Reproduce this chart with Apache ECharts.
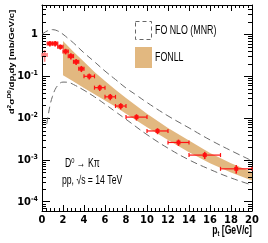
<!DOCTYPE html>
<html><head><meta charset="utf-8">
<script src="https://cdn.jsdelivr.net/npm/echarts@6/dist/echarts.min.js"></script>
<style>html,body{margin:0;padding:0;background:#fff}#c{width:268px;height:243px}</style>
</head><body><div id="c"></div>
<script>
// ---- data ----
const ptCenter = [0.25, 0.75, 1.25, 1.75, 2.25, 2.75, 3.25, 3.75, 4.5, 5.5, 6.5, 7.5, 9, 11, 13, 15.5, 18.5];
const ptLow    = [0, 0.5, 1, 1.5, 2, 2.5, 3, 3.5, 4, 5, 6, 7, 8, 10, 12, 14, 17];
const ptHigh   = [0.5, 1, 1.5, 2, 2.5, 3, 3.5, 4, 5, 6, 7, 8, 10, 12, 14, 17, 20];
const xsec     = [0.32, 0.60, 0.60, 0.50, 0.39, 0.30, 0.22, 0.15, 0.099, 0.053, 0.032, 0.0193, 0.0105, 0.0049, 0.0026, 0.0013, 0.00061];
const xsecErr  = [0.10, 0.09, 0.09, 0.07, 0.06, 0.05, 0.035, 0.025, 0.016, 0.009, 0.0055, 0.0033, 0.0018, 0.0008, 0.00045, 0.00025, 0.00014];

const fonllPt    = [2, 3, 4, 5, 6, 7, 8, 10, 12, 14, 16, 18, 20];
const fonllUpper = [0.69, 0.38, 0.22, 0.126, 0.076, 0.047, 0.030, 0.0126, 0.0058, 0.0029, 0.00145, 0.00083, 0.00051];
const fonllLower = [0.105, 0.074, 0.052, 0.037, 0.026, 0.0186, 0.0126, 0.0060, 0.0030, 0.00151, 0.00083, 0.00050, 0.00032];

const mnrUpperPt = [0, 0.5, 1, 1.5, 2, 2.5, 3, 4, 5, 6, 7, 8, 9, 10, 12, 14, 16, 18, 20];
const mnrUpper   = [1.0, 1.2, 1.29, 1.2, 1.0, 0.79, 0.62, 0.36, 0.22, 0.132, 0.083, 0.052, 0.035, 0.0234, 0.0112, 0.0058, 0.0030, 0.00166, 0.00095];
const mnrLowerPt = [0.45, 0.6, 0.8, 1.0, 1.25, 1.5, 1.75, 2, 2.5, 3, 4, 5, 6, 7, 8, 10, 12, 14, 16, 18, 20];
const mnrLower   = [0.0071, 0.012, 0.022, 0.033, 0.048, 0.060, 0.069, 0.072, 0.071, 0.063, 0.046, 0.032, 0.0214, 0.0141, 0.0093, 0.0040, 0.0019, 0.0010, 0.00059, 0.00037, 0.00025];

const minorMult = [2, 3, 4, 5, 6, 7, 8, 9];

// ---- style ----
const NARROW = '"Liberation Sans Narrow", "DejaVu Sans Condensed", "Liberation Sans", Arial, sans-serif';
const SANS = '"Liberation Sans", Arial, sans-serif';
const X_MIN = 0, X_MAX = 20, Y_MIN = 6e-5, Y_MAX = 5;

const chart = echarts.init(document.getElementById('c'), null, {renderer: 'canvas'});

function supLabel(v) {
  if (Math.abs(v - 1) < 1e-9) return '1';
  const e = Math.round(Math.log10(v));
  if (Math.abs(Math.log10(v) - e) > 1e-6) return '';
  return '10{sup|' + e + '}';
}

const minorVals = [];
for (let d = -5; d <= 0; d++) minorMult.forEach(m => { const v = m * Math.pow(10, d); if (v > Y_MIN && v < Y_MAX) minorVals.push([0, v]); });

const dataRows = ptCenter.map((p, i) => [p, xsec[i], ptLow[i], ptHigh[i], xsec[i] - xsecErr[i], xsec[i] + xsecErr[i]]);

const axisLineStyle = {color: '#000', width: 1};
const labelStyle = {fontFamily: NARROW, fontWeight: 'bold', fontSize: 11, color: '#000'};

chart.setOption({
  animation: false,
  grid: {left: 42, top: 5, width: 210, height: 206, show: false},
  xAxis: [
    {type: 'value', min: X_MIN, max: X_MAX, interval: 2, position: 'bottom',
     axisLine: {show: true, onZero: false, lineStyle: axisLineStyle},
     axisTick: {show: true, inside: true, length: 6, lineStyle: axisLineStyle},
     minorTick: {show: true, splitNumber: 5, length: 3, lineStyle: axisLineStyle},
     axisLabel: Object.assign({margin: 4}, labelStyle),
     splitLine: {show: false}},
    {type: 'value', min: X_MIN, max: X_MAX, interval: 2, position: 'top',
     axisLine: {show: true, onZero: false, lineStyle: axisLineStyle},
     axisTick: {show: true, inside: true, length: 6, lineStyle: axisLineStyle},
     minorTick: {show: true, splitNumber: 5, length: 3, lineStyle: axisLineStyle},
     axisLabel: {show: false}, splitLine: {show: false}}
  ],
  yAxis: [
    {type: 'log', logBase: 10, min: Y_MIN, max: Y_MAX, position: 'left',
     axisLine: {show: true, onZero: false, lineStyle: axisLineStyle},
     axisTick: {show: true, inside: true, length: 8, lineStyle: axisLineStyle},
     minorTick: {show: false},
     axisLabel: Object.assign({margin: 4, formatter: supLabel,
       rich: {sup: {fontFamily: NARROW, fontWeight: 'bold', fontSize: 7, padding: [0, 0, 6, 0]}}}, labelStyle),
     splitLine: {show: false}},
    {type: 'log', logBase: 10, min: Y_MIN, max: Y_MAX, position: 'right',
     axisLine: {show: true, onZero: false, lineStyle: axisLineStyle},
     axisTick: {show: true, inside: true, length: 8, lineStyle: axisLineStyle},
     minorTick: {show: false}, axisLabel: {show: false}, splitLine: {show: false}}
  ],
  series: [
    {type: 'custom', name: 'FONLL', z: 1,
     renderItem: function (params, api) {
       if (params.dataIndex !== 0) return null;
       const pts = [];
       fonllPt.forEach((p, i) => pts.push(api.coord([p, fonllUpper[i]])));
       for (let i = fonllPt.length - 1; i >= 0; i--) pts.push(api.coord([fonllPt[i], fonllLower[i]]));
       return {type: 'polygon', shape: {points: pts}, style: {fill: '#e2b880', stroke: 'none'}};
     },
     data: fonllPt.map((p, i) => [p, fonllUpper[i]])},
    {type: 'line', name: 'FO NLO (MNR) upper', data: mnrUpperPt.map((p, i) => [p, mnrUpper[i]]),
     smooth: 0.4, symbol: 'none', z: 2, lineStyle: {color: '#6a6a6a', width: 1, type: [7, 4]}},
    {type: 'line', name: 'FO NLO (MNR) lower', data: mnrLowerPt.map((p, i) => [p, mnrLower[i]]),
     smooth: 0.4, symbol: 'none', z: 2, lineStyle: {color: '#6a6a6a', width: 1, type: [7, 4]}},
    {type: 'custom', name: 'data', z: 5,
     renderItem: function (params, api) {
       const c = api.coord([api.value(0), api.value(1)]);
       const xl = api.coord([api.value(2), api.value(1)]);
       const xh = api.coord([api.value(3), api.value(1)]);
       const yl = api.coord([api.value(0), api.value(4)]);
       const yh = api.coord([api.value(0), api.value(5)]);
       const col = params.dataIndex === 0 ? '#ff8080' : '#ff1010';
       const st = {stroke: col, lineWidth: 1.2};
       return {type: 'group', children: [
         {type: 'line', shape: {x1: xl[0], y1: c[1], x2: xh[0], y2: c[1]}, style: st},
         {type: 'line', shape: {x1: xl[0], y1: c[1] - 2, x2: xl[0], y2: c[1] + 2}, style: st},
         {type: 'line', shape: {x1: xh[0], y1: c[1] - 2, x2: xh[0], y2: c[1] + 2}, style: st},
         {type: 'line', shape: {x1: c[0], y1: yl[1], x2: c[0], y2: yh[1]}, style: {stroke: col, lineWidth: 1.6}},
         {type: 'rect', shape: {x: c[0] - 2, y: c[1] - 2, width: 4, height: 4}, style: {fill: col}}
       ]};
     },
     data: dataRows},
    {type: 'custom', name: 'logMinorTicks', z: 6, silent: true,
     renderItem: function (params, api) {
       const l = api.coord([X_MIN, api.value(1)]);
       const r = api.coord([X_MAX, api.value(1)]);
       const st = {stroke: '#000', lineWidth: 1};
       const y = Math.round(l[1]) + 0.5;
       return {type: 'group', children: [
         {type: 'line', shape: {x1: l[0], y1: y, x2: l[0] + 4, y2: y}, style: st},
         {type: 'line', shape: {x1: r[0] - 4, y1: y, x2: r[0], y2: y}, style: st}
       ]};
     },
     data: minorVals}
  ],
  graphic: [
    {type: 'rect', shape: {x: 135.5, y: 21.5, width: 16, height: 18}, style: {fill: '#fff', stroke: '#666', lineWidth: 1, lineDash: [4, 3]}, z: 10},
    {type: 'text', x: 155, y: 30.5, scaleX: 0.68, style: {text: 'FO NLO (MNR)', fontFamily: SANS, fontSize: 13, fill: '#000', verticalAlign: 'middle'}, z: 10},
    {type: 'rect', shape: {x: 135, y: 47, width: 17, height: 21}, style: {fill: '#e2b880'}, z: 10},
    {type: 'text', x: 155, y: 57.5, scaleX: 0.68, style: {text: 'FONLL', fontFamily: SANS, fontSize: 13, fill: '#000', verticalAlign: 'middle'}, z: 10},
    {type: 'text', x: 65, y: 164, scaleX: 0.72, style: {text: 'D{s|0} → Kπ', fontFamily: SANS, fontSize: 12, fill: '#000', verticalAlign: 'middle',
      rich: {s: {fontFamily: SANS, fontSize: 8, padding: [0, 0, 7, 0]}}}, z: 10},
    {type: 'text', x: 62, y: 181, scaleX: 0.72, style: {text: 'pp, √s = 14 TeV', fontFamily: SANS, fontSize: 12, fill: '#000', verticalAlign: 'middle'}, z: 10},
    {type: 'text', x: 252, y: 231, scaleX: 0.72, style: {text: 'p{sub|t} [GeV/c]', fontFamily: SANS, fontWeight: 'bold', fontSize: 12, fill: '#000', align: 'right', verticalAlign: 'middle',
      rich: {sub: {fontFamily: SANS, fontWeight: 'bold', fontSize: 8, padding: [6, 0, 0, 0]}}}, z: 10},
    {type: 'text', x: 12, y: 62, rotation: Math.PI / 2, scaleY: 0.85,
     style: {text: 'd{sup|2}σ{sup|D0}/dp{sub|t}dy [mb/GeV/c]', fontFamily: SANS, fontWeight: 'bold', fontSize: 9.5, fill: '#000', align: 'center', verticalAlign: 'middle',
      rich: {sup: {fontFamily: SANS, fontWeight: 'bold', fontSize: 6.5, padding: [0, 0, 6, 0]}, sub: {fontFamily: SANS, fontWeight: 'bold', fontSize: 6.5, padding: [6, 0, 0, 0]}}}, z: 10}
  ]
});
</script></body></html>
